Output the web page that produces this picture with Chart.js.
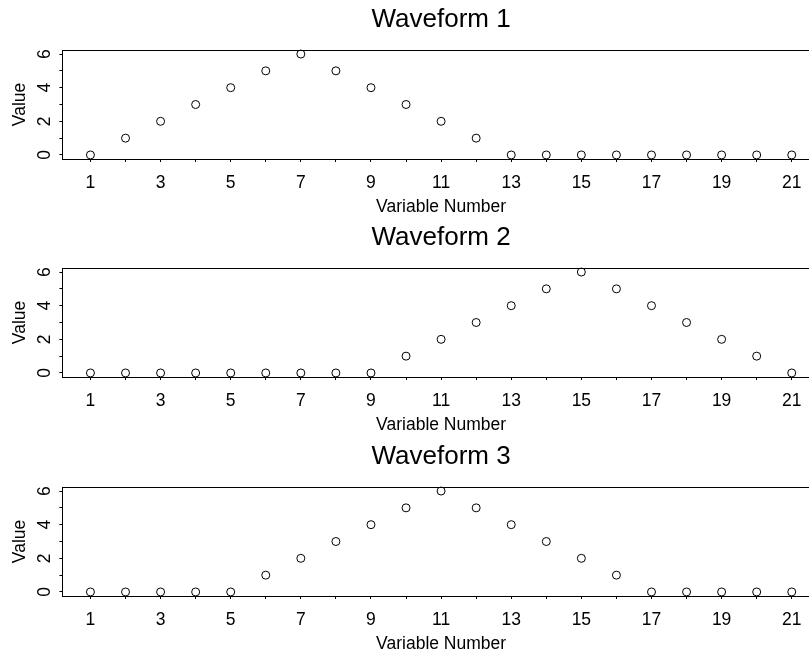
<!DOCTYPE html>
<html>
<head>
<meta charset="utf-8">
<script src="https://cdn.jsdelivr.net/npm/chart.js@4.4.1/dist/chart.umd.min.js"></script>
<style>
html,body{margin:0;padding:0;background:#fff;}
#wrap{position:relative;width:809px;height:652px;overflow:hidden;background:#fff;}
canvas{position:absolute;left:0;}
</style>
</head>
<body>
<div id="wrap">
<canvas id="c0" width="830" height="218" style="top:0px"></canvas>
<canvas id="c1" width="830" height="218" style="top:218px"></canvas>
<canvas id="c2" width="830" height="218" style="top:437px"></canvas>
</div>
<script>
// ---- data ----
const variableNumbers = [1,2,3,4,5,6,7,8,9,10,11,12,13,14,15,16,17,18,19,20,21];
const waveform1 = [0,1,2,3,4,5,6,5,4,3,2,1,0,0,0,0,0,0,0,0,0];
const waveform2 = [0,0,0,0,0,0,0,0,0,1,2,3,4,5,6,5,4,3,2,1,0];
const waveform3 = [0,0,0,0,0,1,2,3,4,5,6,5,4,3,2,1,0,0,0,0,0];
const panelTitles = ['Waveform 1','Waveform 2','Waveform 3'];
const xTickValues = [1,2,3,4,5,6,7,8,9,10,11,12,13,14,15,16,17,18,19,20,21];
const xTickLabels = [1,3,5,7,9,11,13,15,17,19,21];
const yTickValues = [0,1,2,3,4,5,6];
const yTickLabels = [0,2,4,6];
const xAxisTitle = 'Variable Number';
const yAxisTitle = 'Value';

Chart.defaults.font.family = "'Liberation Sans', Arial, Helvetica, sans-serif";
Chart.defaults.color = '#000';

const series = [waveform1, waveform2, waveform3];

series.forEach((wave, i) => {
  const ctx = document.getElementById('c' + i);
  new Chart(ctx, {
    type: 'scatter',
    data: {
      datasets: [{
        data: variableNumbers.map((x, k) => ({x: x, y: wave[k]})),
        pointStyle: 'circle',
        pointRadius: 4,
        pointHoverRadius: 4,
        pointBorderWidth: 1,
        pointBorderColor: '#000',
        pointBackgroundColor: 'rgba(0,0,0,0)',
        showLine: false,
        clip: false
      }]
    },
    options: {
      responsive: false,
      animation: false,
      devicePixelRatio: 1,
      events: [],
      layout: {padding: {left: 0, right: 10.2, top: 0, bottom: 0}},
      plugins: {
        legend: {display: false},
        tooltip: {enabled: false},
        title: {
          display: true,
          text: panelTitles[i],
          fullSize: false,
          color: '#000',
          font: {size: 26, weight: 'normal', lineHeight: 1.2},
          padding: {top: 3.9, bottom: 14.9}
        }
      },
      scales: {
        x: {
          type: 'linear',
          position: 'bottom',
          min: 0.2,
          max: 21.8,
          bounds: 'data',
          afterBuildTicks: s => { s.ticks = xTickValues.map(v => ({value: v})); },
          afterFit: s => { s.height = 59; },
          ticks: {
            autoSkip: false, minRotation: 0, maxRotation: 0, padding: 10.5,
            color: '#000', font: {size: 17.5, lineHeight: 1.2},
            callback: v => xTickLabels.includes(v) ? String(v) : ''
          },
          grid: {drawOnChartArea: false, drawTicks: true, tickLength: 3, color: '#000', tickColor: '#000', lineWidth: 1},
          border: {display: true, color: '#000', width: 1},
          title: {display: true, text: xAxisTitle, color: '#000', font: {size: 17.5, lineHeight: 1.2}, padding: {top: 0, bottom: 0.5}}
        },
        x2: {
          type: 'linear',
          position: 'top',
          min: 0.2,
          max: 21.8,
          afterFit: s => { s.height = 0; },
          ticks: {display: false},
          grid: {drawOnChartArea: false, drawTicks: false, color: '#000'},
          border: {display: true, color: '#000', width: 1}
        },
        y: {
          type: 'linear',
          position: 'left',
          min: -0.24,
          max: 6.24,
          bounds: 'data',
          afterBuildTicks: s => { s.ticks = yTickValues.map(v => ({value: v})); },
          afterFit: s => { s.width = 62.4; },
          ticks: {
            autoSkip: false, minRotation: 90, maxRotation: 90, crossAlign: 'center', padding: 9.5,
            color: '#000', font: {size: 17.5, lineHeight: 1.2},
            callback: v => yTickLabels.includes(v) ? String(v) : ''
          },
          grid: {drawOnChartArea: false, drawTicks: true, tickLength: 3, color: '#000', tickColor: '#000', lineWidth: 1},
          border: {display: true, color: '#000', width: 1},
          title: {display: true, text: yAxisTitle, color: '#000', font: {size: 17.5, lineHeight: 1.2}, padding: {top: 9.5, bottom: 0}}
        }
      }
    }
  });
});
</script>
</body>
</html>
